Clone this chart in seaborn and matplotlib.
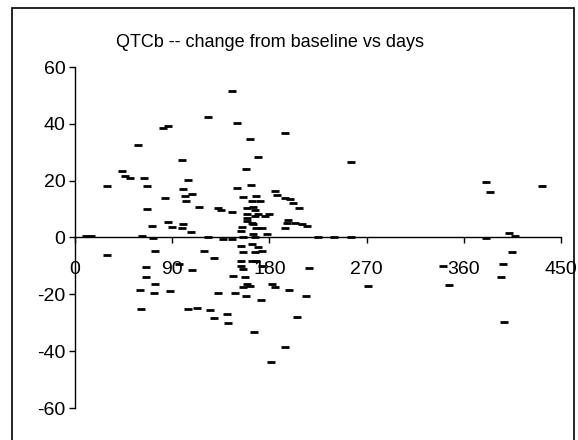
import matplotlib
matplotlib.use("Agg")
import matplotlib.pyplot as plt
import seaborn as sns
import pandas as pd
from matplotlib.patches import Rectangle

# Days on study and QTcB change from baseline (msec)
days = [
    10, 15, 30, 30, 43.8, 46.3, 50.9, 58, 61.7, 60.2, 60.8, 64.2, 66.4, 66.4,
    65.7, 65.7, 71, 72.5, 74, 74, 73, 81.8, 86.4, 83.3, 85.8, 89.5, 88, 96.6,
    99.4, 104.9, 100.3, 101.9, 108, 102.5, 100.3, 99.4, 107.4, 108, 104.9,
    112.6, 115, 119.5, 123.5, 123.5, 128.7, 125, 129, 132.7, 135, 132, 137,
    140.5, 142, 145, 145, 146.6, 148, 149.7, 149.7, 145, 154, 154, 154, 154,
    155.9, 155, 156, 156, 156, 157.4, 156, 158, 158, 159, 159, 159, 159, 159,
    162, 162, 163, 163.6, 163.6, 163.6, 163.6, 165, 165, 165, 166, 166.7,
    166.7, 166.7, 166.7, 168, 168, 168, 169.7, 169.7, 169.7, 171.3, 172.2,
    172.8, 172.8, 173, 176, 177.5, 180, 181.5, 182.7, 185, 185, 186.7, 194.4,
    194.4, 194.4, 194.4, 196, 197.5, 198, 199, 202, 203.7, 205.3, 207.4, 210,
    214.5, 214, 216.7, 225, 239.5, 256, 255.6, 271.6, 340.5, 346.6, 380.6,
    384.3, 380.6, 394.4, 396, 397, 401.9, 407, 405, 432,
]
qtcb_change = [
    0.6, 0.6, -6.2, 18, 23.3, 21.6, 21, 32.7, 0.6, -18.4, -25.3, 20.8, 18.1,
    10.1, -10.5, -14, 4.1, -0.3, -4.7, -16.5, -19.6, 38.7, 39.3, 14, 5.5, 3.7,
    -19, -9.3, 27.2, 20.4, 16.9, 14.6, 15.2, 12.8, 4.7, 3.5, 2, -11.6, -25,
    -24.7, 10.8, -4.7, 42.3, 0, -7.3, -25.4, -28.5, 10.5, 9.7, -19.6, -0.6,
    -26.8, -30, 51.5, 9.1, -13.7, -19.6, 40.2, 17.3, -0.6, 2.3, -2.9, -8.2,
    -10.1, 14.2, 3.7, 0, -5.2, -11, -14, -17.5, 24, -20.7, 10.3, 8.4, 7, 5.8,
    -16.3, 34.7, -16.9, 18.3, 12.8, 5.2, -2.3, -8.2, 10.8, 1.2, 4.7, -33.4,
    9.6, 7.6, 0, -5.2, 14.6, 3.5, -8.4, 28.2, 8.2, -3.5, 12.8, -22.1, 3.5,
    -4.7, -10, 7.6, 1.2, 8.2, -43.9, -16.3, 16.3, -17.5, 14.8, 14, 36.7, 3.5,
    -38.5, 5.2, 6.3, -18.4, 13.4, 12.2, 5.2, -28, 10.5, 4.7, 4.1, -20.6, -10.8,
    0.3, 0.2, 0, 26.6, -17, -10.1, -16.6, 19.7, 15.9, -0.3, -14, -9.4, -29.7,
    1.5, 0.6, -5.2, 18,
]

x_ticks = [0, 90, 180, 270, 360, 450]
y_ticks = [-60, -40, -20, 0, 20, 40, 60]
title = "QTCb -- change from baseline vs days"

df = pd.DataFrame({"days": days, "change": qtcb_change})

sns.set_theme(style="white")
plt.rcParams["font.family"] = ["Liberation Sans", "DejaVu Sans"]
plt.rcParams["axes.unicode_minus"] = False

W, H = 578, 440
fig = plt.figure(figsize=(W / 100, H / 100), dpi=100)
fig.patch.set_facecolor("white")

ax = fig.add_axes([75 / W, 32 / H, 486 / W, 341 / H])
ax.set_facecolor("white")

sns.scatterplot(data=df, x="days", y="change", marker="_", s=34,
                color="black", linewidth=2.0, ax=ax, legend=False, zorder=3)

ax.set_xlim(0, 450)
ax.set_ylim(-60, 60)
ax.set_xticks(x_ticks)
ax.set_yticks(y_ticks)
ax.set_xlabel("")
ax.set_ylabel("")

ax.spines["top"].set_visible(False)
ax.spines["right"].set_visible(False)
ax.spines["bottom"].set_position(("data", 0))
for side in ("left", "bottom"):
    ax.spines[side].set_color("black")
    ax.spines[side].set_linewidth(1.0)

ax.tick_params(axis="both", which="major", direction="out", length=4,
               width=1, color="black", labelcolor="black", labelsize=14)
ax.tick_params(axis="x", pad=13, bottom=True)
ax.tick_params(axis="y", pad=3, left=True)
ax.grid(False)

fig.text(270 / W, 1 - 47 / H, title, ha="center", va="baseline",
         fontsize=13, color="black")

# Outer chart frame
fig.add_artist(Rectangle((12 / W, -0.05), (574 - 12) / W, 1 - 8 / H + 0.05,
                         transform=fig.transFigure, fill=False,
                         edgecolor="black", linewidth=1.2))

fig.savefig("out.png", dpi=100, facecolor="white")
